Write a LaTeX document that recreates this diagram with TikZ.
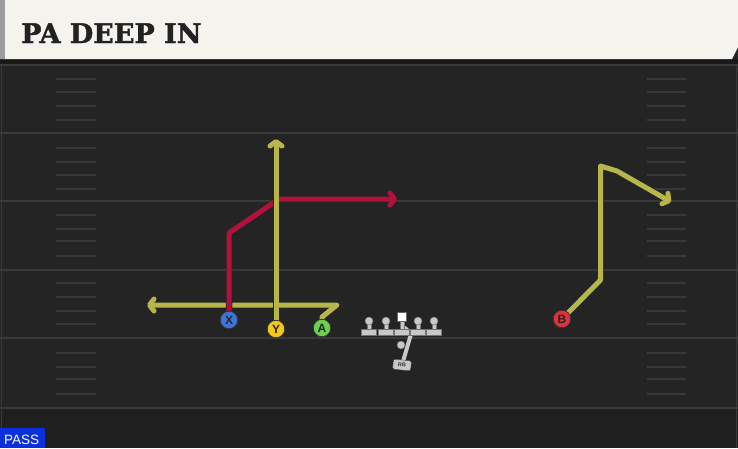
\documentclass[tikz,border=0pt]{standalone}
\usepackage{fontspec}
\setmainfont{Liberation Sans}
\newfontfamily\titlefont{DejaVu Serif}[BoldFont={DejaVu Serif Bold}, BoldFeatures={FakeBold=1.5}]
\usetikzlibrary{arrows.meta}
\definecolor{fieldbg}{HTML}{242424}
\definecolor{bottombg}{HTML}{1F1F1F}
\definecolor{fieldline}{HTML}{3A3A3A}
\definecolor{hashcol}{HTML}{383838}
\definecolor{headercol}{HTML}{F5F3EE}
\definecolor{headerstrip}{HTML}{9C9C9C}
\definecolor{titlecol}{HTML}{222222}
\definecolor{routeyellow}{HTML}{B6B64A}
\definecolor{routered}{HTML}{B0123A}
\definecolor{xblue}{HTML}{3D74DA}
\definecolor{yyellow}{HTML}{F2C81C}
\definecolor{agreen}{HTML}{6CD14A}
\definecolor{bred}{HTML}{E0303C}
\definecolor{linegray}{HTML}{C8C8C8}
\definecolor{passblue}{HTML}{0B2FDB}
\pgfdeclarelayer{bg}
\pgfdeclarelayer{routes}
\pgfsetlayers{bg,routes,main}
\tikzset{
  route/.style={line width=5pt, line join=round, line cap=round,
    -{Straight Barb[length=4.5pt,width=12pt,line cap=round,line join=round]},
    preaction={draw=black!85, line width=6.5pt}},
  yroute/.style={route, draw=routeyellow},
  rroute/.style={route, draw=routered},
  player/.style={circle, draw=black!80, line width=0.8pt, minimum size=17.5pt, inner sep=0pt,
    font=\bfseries\fontsize{12}{12}\selectfont, text=black!85},
  yardline/.style={draw=fieldline, line width=2pt},
  hashmark/.style={draw=hashcol, line width=1.5pt},
  lmpart/.style={fill=linegray, draw=black!55, line width=0.4pt},
  lineman/.pic={
    \fill[lmpart] (-2.2,-11) rectangle (2.2,-1);
    \fill[lmpart] (-7.5,-2.5) rectangle (7.5,3.5);
    \fill[lmpart] (0,-11) circle (4);
  },
}
\begin{document}
\begin{tikzpicture}[x=1pt,y=-1pt]
\useasboundingbox (0,0) rectangle (738,448);
\begin{pgfonlayer}{bg}
  \fill[fieldbg] (0,0) rectangle (738,448);
  \fill[bottombg] (0,409) rectangle (738,448);
  \fill[black!90] (0,59) rectangle (738,64);
  \fill[headercol] (0,0) -- (738,0) -- (738,47) -- (732,59) -- (0,59) -- cycle;
  \fill[headerstrip] (0,0) rectangle (5,59);
  \foreach \yy in {65,133,201,270,338,408} \draw[yardline] (0,\yy) -- (738,\yy);
  \draw[draw=fieldline, line width=1.5pt] (1.5,64) -- (1.5,448);
  \draw[draw=fieldline, line width=1.5pt] (736.5,64) -- (736.5,448);
  \foreach \yy in {79,92,106,120,148,162,175,189,215,229,241,256,283,297,311,324,353,367,379,394}{
    \draw[hashmark] (56,\yy) -- (96,\yy);
    \draw[hashmark] (647,\yy) -- (686,\yy);
  }
\end{pgfonlayer}
% title
\node[anchor=base west, inner sep=0pt, text=titlecol, font=\titlefont\bfseries\fontsize{27}{27}\selectfont] (title) at (21,43) {PA DEEP IN};
% pass tag
\node[fill=passblue, anchor=south west, minimum width=45pt, minimum height=20pt, inner sep=0pt] (passbox) at (0,448) {};
\node[anchor=base west, inner sep=0pt, text=white, font=\fontsize{13.5}{13.5}\selectfont] (passtxt) at (4,444) {PASS};
% players
\node[player, fill=xblue] (X) at (229,320) {X};
\node[player, fill=yyellow] (Y) at (276,329) {Y};
\node[player, fill=agreen] (A) at (322,328) {A};
\node[player, fill=bred] (B) at (562,319) {B};
% offensive line
\pic at (369,332) {lineman};
\pic at (386,332) {lineman};
\pic at (418,332) {lineman};
\pic at (434,332) {lineman};
\fill[lmpart] (399.8,320) rectangle (404.2,331);
\fill[lmpart] (394.5,329.5) rectangle (409.5,335.5);
\node[fill=white, draw=black!60, line width=0.4pt, minimum size=9pt, inner sep=0pt] (C) at (402,317) {};
\node[circle, fill=linegray, draw=black!60, line width=0.4pt, minimum size=8pt, inner sep=0pt] (QB) at (401,345) {};
\node[fill=linegray, draw=black!70, line width=0.4pt, rounded corners=2pt, minimum width=18pt, minimum height=10pt, inner sep=0pt, rotate=-6, font=\bfseries\fontsize{5.5}{5.5}\selectfont, text=black!80] (RB) at (402,365) {RB};
% routes
\coordinate (x1) at (229,233);
\coordinate (x2) at (279,199);
\coordinate (x3) at (397,199);
\coordinate (y1) at (276,139);
\coordinate (a1) at (322,317);
\coordinate (a2) at (337,305);
\coordinate (a3) at (147,305);
\coordinate (b1) at (600.5,280);
\coordinate (b2) at (600.5,166);
\coordinate (b3) at (617,171);
\coordinate (b4) at (671,202);
\coordinate (r1) at (411,334);
\coordinate (r2) at (405,328);
\begin{pgfonlayer}{routes}
  \draw[yroute] (A.center) -- (a1) -- (a2) -- (a3);
  \draw[rroute] (X.center) -- (x1) -- (x2) -- (x3);
  \draw[yroute] (Y.center) -- (y1);
  \draw[yroute] (B.center) -- (b1) -- (b2) -- (b3) -- (b4);
  \draw[draw=linegray, line width=4pt, line join=round, line cap=round] (RB.center) -- (r1) -- (r2);
\end{pgfonlayer}
\end{tikzpicture}
\end{document}
